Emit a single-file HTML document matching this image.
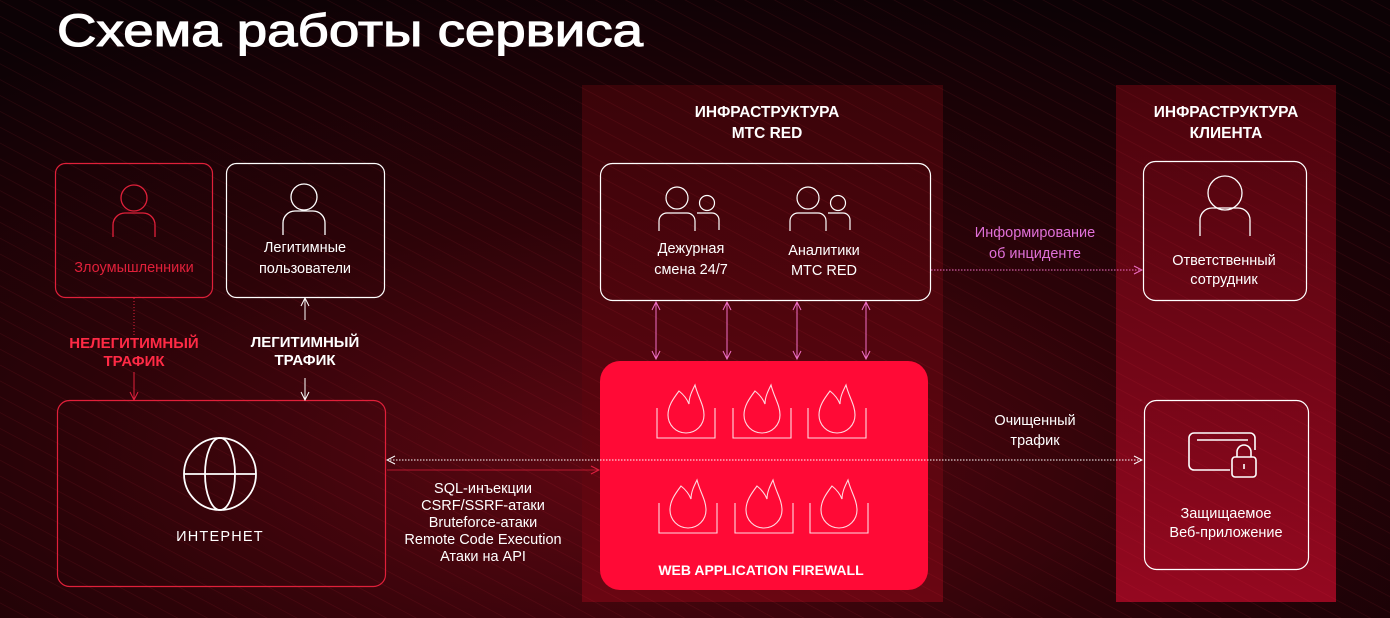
<!DOCTYPE html>
<html><head><meta charset="utf-8"><style>
html,body{margin:0;padding:0;background:#0a0204;}
svg{display:block;font-family:"Liberation Sans",sans-serif;}
</style></head><body>
<svg width="1390" height="618" viewBox="0 0 1390 618" xmlns="http://www.w3.org/2000/svg">
<defs>
<radialGradient id="bg" cx="0.45" cy="0.75" r="0.8">
<stop offset="0" stop-color="#5e0712"/><stop offset="0.5" stop-color="#2c0308"/><stop offset="1" stop-color="#0c0205"/>
</radialGradient>
<linearGradient id="mts" x1="0" y1="0" x2="0" y2="1">
<stop offset="0" stop-color="#3a0409"/><stop offset="1" stop-color="#6a0612"/>
</linearGradient>
<linearGradient id="cli" x1="0" y1="0" x2="0" y2="1">
<stop offset="0" stop-color="#4a040c"/><stop offset="1" stop-color="#950820"/>
</linearGradient>
<pattern id="lines" width="14" height="14" patternUnits="userSpaceOnUse" patternTransform="rotate(28)">
<line x1="0" y1="0" x2="14" y2="0" stroke="#ff3050" stroke-opacity="0.12" stroke-width="1.2"/>
</pattern>
<marker id="aw" viewBox="0 0 10 10" refX="9" refY="5" markerWidth="10" markerHeight="10" orient="auto-start-reverse"><path d="M1 1L9 5L1 9" fill="none" stroke="#fff" stroke-width="1"/></marker>
<marker id="ap" viewBox="0 0 10 10" refX="9" refY="5" markerWidth="10" markerHeight="10" orient="auto-start-reverse"><path d="M1 1L9 5L1 9" fill="none" stroke="#f070c8" stroke-width="1"/></marker>
<marker id="ar" viewBox="0 0 10 10" refX="9" refY="5" markerWidth="10" markerHeight="10" orient="auto-start-reverse"><path d="M1 1L9 5L1 9" fill="none" stroke="#e02040" stroke-width="1"/></marker>
</defs>
<rect width="1390" height="618" fill="url(#bg)"/>
<rect width="1390" height="618" fill="url(#lines)"/>
<rect x="582" y="85" width="361" height="517" fill="url(#mts)"/>
<rect x="1116" y="85" width="220" height="517" fill="url(#cli)"/>
<rect x="582" y="85" width="361" height="517" fill="url(#lines)"/>
<rect x="1116" y="85" width="220" height="517" fill="url(#lines)"/>

<text x="57" y="46" font-size="45" fill="#fff" stroke="#fff" stroke-width="1.1" textLength="586" lengthAdjust="spacingAndGlyphs">Схема работы сервиса</text>

<!-- boxes -->
<rect x="55.5" y="163.5" width="157" height="134" rx="10" fill="none" stroke="#e0203a" stroke-width="1.2"/>
<rect x="226.5" y="163.5" width="158" height="134" rx="10" fill="none" stroke="#fff" stroke-width="1.2"/>
<rect x="57.5" y="400.5" width="328" height="186" rx="12" fill="none" stroke="#e0203a" stroke-width="1.2"/>
<rect x="600.5" y="163.5" width="330" height="137" rx="12" fill="none" stroke="#fff" stroke-width="1.2"/>
<rect x="600" y="361" width="328" height="229" rx="20" fill="#ff0a36"/>
<rect x="1143.5" y="161.5" width="163" height="139" rx="12" fill="none" stroke="#fff" stroke-width="1.2"/>
<rect x="1144.5" y="400.5" width="164" height="169" rx="12" fill="none" stroke="#fff" stroke-width="1.2"/>

<!-- person icons -->
<g fill="none" stroke="#e0203a" stroke-width="1.3">
<circle cx="134" cy="198" r="13"/><path d="M113 237v-12a12 12 0 0 1 12-12h18a12 12 0 0 1 12 12v12"/>
</g>
<g fill="none" stroke="#fff" stroke-width="1.3">
<circle cx="304" cy="197" r="13"/><path d="M283 235v-12a12 12 0 0 1 12-12h18a12 12 0 0 1 12 12v12"/>
<circle cx="1225" cy="193" r="17"/><path d="M1200 236v-16a12 12 0 0 1 12-12h26a12 12 0 0 1 12 12v16"/>
</g>
<g fill="none" stroke="#fff" stroke-width="1.2">
<circle cx="677" cy="198" r="11"/><circle cx="707" cy="203" r="7.5"/><path d="M659 231v-10a8 8 0 0 1 8-8h20a8 8 0 0 1 8 8v10"/><path d="M697 213h15a7 7 0 0 1 7 7v10"/>
<circle cx="808" cy="198" r="11"/><circle cx="838" cy="203" r="7.5"/><path d="M790 231v-10a8 8 0 0 1 8-8h20a8 8 0 0 1 8 8v10"/><path d="M828 213h15a7 7 0 0 1 7 7v10"/>
</g>
<!-- globe -->
<g fill="none" stroke="#fff" stroke-width="1.8">
<circle cx="220" cy="474" r="36"/><ellipse cx="220" cy="474" rx="15" ry="36"/><line x1="184" y1="474" x2="256" y2="474"/>
</g>
<!-- web app lock -->
<g fill="none" stroke="#fff" stroke-width="1.6">
<path d="M1230 470h-36a5 5 0 0 1-5-5v-27a5 5 0 0 1 5-5h56a5 5 0 0 1 5 5v12"/>
<line x1="1197" y1="440" x2="1248" y2="440"/>
<rect x="1232" y="457" width="24" height="20" rx="3"/><path d="M1237 457v-5a7 7 0 0 1 14 0v5"/><line x1="1244" y1="464" x2="1244" y2="469"/>
</g>
<!-- flames -->
<g fill="none" stroke="#fff" stroke-opacity="0.85" stroke-width="1.1">
<g id="fl"><path d="M657 408v30h58v-30"/><path d="M679 391c-6 8-11 15-11 24a18 18 0 0 0 36 0c0-10-6-18-9-30c-3 6-6 12-6 19c-2-5-5-9-10-13z"/></g>
<use href="#fl" x="76"/><use href="#fl" x="151"/>
<use href="#fl" x="2" y="95"/><use href="#fl" x="78" y="95"/><use href="#fl" x="153" y="95"/>
</g>

<!-- connectors -->
<line x1="134" y1="298" x2="134" y2="335" stroke="#e0203a" stroke-dasharray="1 2"/>
<line x1="134" y1="372" x2="134" y2="400" stroke="#e0203a" marker-end="url(#ar)"/>
<line x1="305" y1="320" x2="305" y2="298" stroke="#fff" marker-end="url(#aw)"/>
<line x1="305" y1="378" x2="305" y2="400" stroke="#fff" marker-end="url(#aw)"/>
<g stroke="#f070c8" stroke-width="1">
<line x1="656" y1="302" x2="656" y2="359" marker-start="url(#ap)" marker-end="url(#ap)"/>
<line x1="727" y1="302" x2="727" y2="359" marker-start="url(#ap)" marker-end="url(#ap)"/>
<line x1="797" y1="302" x2="797" y2="359" marker-start="url(#ap)" marker-end="url(#ap)"/>
<line x1="866" y1="302" x2="866" y2="359" marker-start="url(#ap)" marker-end="url(#ap)"/>
<line x1="931" y1="270" x2="1142" y2="270" stroke-dasharray="1.5 1.5" marker-end="url(#ap)"/>
</g>
<line x1="387" y1="460" x2="1142" y2="460" stroke="#fff" stroke-dasharray="1.5 1.5" marker-start="url(#aw)" marker-end="url(#aw)"/>
<line x1="387" y1="470" x2="599" y2="470" stroke="#e0203a" stroke-opacity="0.7" marker-end="url(#ar)"/>

<!-- labels -->
<g text-anchor="middle" font-size="14.5">
<text x="134" y="272" fill="#e0203a">Злоумышленники</text>
<text x="305" y="252" fill="#fff">Легитимные</text>
<text x="305" y="273" fill="#fff">пользователи</text>
<text x="134" y="348" fill="#ff2a45" font-weight="bold" font-size="15">НЕЛЕГИТИМНЫЙ</text>
<text x="134" y="366" fill="#ff2a45" font-weight="bold" font-size="15">ТРАФИК</text>
<text x="305" y="347" fill="#fff" font-weight="bold" font-size="15">ЛЕГИТИМНЫЙ</text>
<text x="305" y="365" fill="#fff" font-weight="bold" font-size="15">ТРАФИК</text>
<text x="220" y="541" fill="#fff" letter-spacing="1.2">ИНТЕРНЕТ</text>
<text x="483" y="493" fill="#fff">SQL-инъекции</text>
<text x="483" y="510" fill="#fff">CSRF/SSRF-атаки</text>
<text x="483" y="527" fill="#fff">Bruteforce-атаки</text>
<text x="483" y="544" fill="#fff">Remote Code Execution</text>
<text x="483" y="561" fill="#fff">Атаки на API</text>
<text x="767" y="117" fill="#fff" font-weight="bold" font-size="15.5">ИНФРАСТРУКТУРА</text>
<text x="767" y="138" fill="#fff" font-weight="bold" font-size="15.5">МТС RED</text>
<text x="1226" y="117" fill="#fff" font-weight="bold" font-size="15.5">ИНФРАСТРУКТУРА</text>
<text x="1226" y="138" fill="#fff" font-weight="bold" font-size="15.5">КЛИЕНТА</text>
<text x="691" y="253" fill="#fff">Дежурная</text>
<text x="691" y="274" fill="#fff">смена 24/7</text>
<text x="824" y="255" fill="#fff">Аналитики</text>
<text x="824" y="275" fill="#fff">МТС RED</text>
<text x="1035" y="237" fill="#e070d8">Информирование</text>
<text x="1035" y="258" fill="#e070d8">об инциденте</text>
<text x="1035" y="425" fill="#fff">Очищенный</text>
<text x="1035" y="445" fill="#fff">трафик</text>
<text x="1224" y="265" fill="#fff">Ответственный</text>
<text x="1224" y="284" fill="#fff">сотрудник</text>
<text x="1226" y="518" fill="#fff">Защищаемое</text>
<text x="1226" y="537" fill="#fff">Веб-приложение</text>
<text x="761" y="575" fill="#fff" font-weight="bold" font-size="14">WEB APPLICATION FIREWALL</text>
</g>
</svg>
</body></html>
